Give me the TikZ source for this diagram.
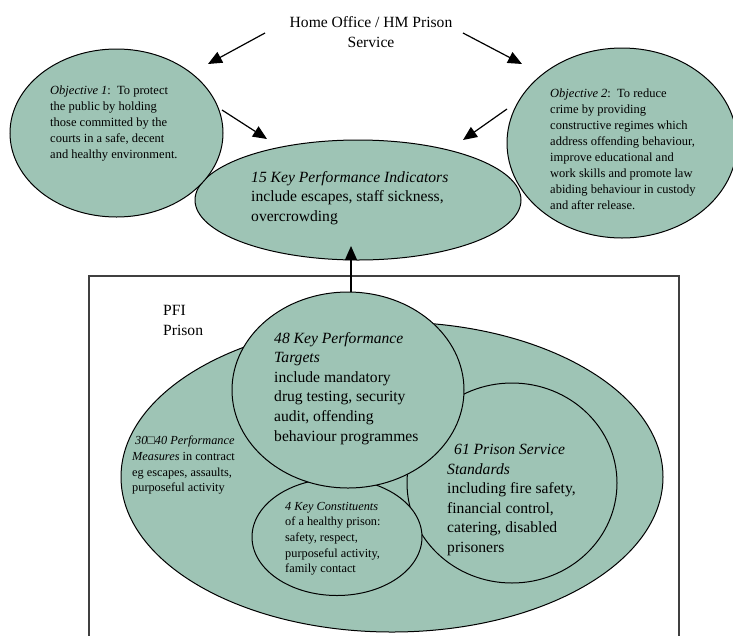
\documentclass[tikz,border=0pt]{standalone}
\usepackage{fontspec}
\setmainfont{Liberation Serif}
\usetikzlibrary{shapes.geometric,arrows.meta}
\definecolor{sage}{RGB}{158,196,181}
\tikzset{
  blob/.style={ellipse, draw=black, line width=1pt, fill=sage, inner sep=0pt},
  bigtxt/.style={font=\fontsize{15.6}{19.6}\selectfont, align=left, inner sep=0pt, anchor=north west},
  smalltxt/.style={font=\fontsize{12.5}{15.9}\selectfont, align=left, inner sep=0pt, anchor=north west},
  arr/.style={-{Triangle[length=14pt,width=12pt]}, line width=1.2pt},
}
\begin{document}
\begin{tikzpicture}[x=1pt, y=-1pt]
    \useasboundingbox (0,0) rectangle (733,635);
    % PFI prison box
    \draw[line width=1.2pt, color=black!75] (89,640) -- (89,276) -- (679,276) -- (679,640);
    % ellipses
    \node[blob, minimum width=542pt, minimum height=310pt] (outer) at (392,477) {};
    \node[blob, minimum width=210pt, minimum height=200pt] (pss) at (512,483) {};
    \node[blob, minimum width=170pt, minimum height=117pt] (kc) at (337,537) {};
    \node[blob, minimum width=232pt, minimum height=196pt] (kpt) at (348,390) {};
    \node[blob, minimum width=326pt, minimum height=120pt] (kpi) at (358,200) {};
    \node[blob, minimum width=213pt, minimum height=168pt] (obj1) at (116.5,133) {};
    \node[blob, minimum width=230pt, minimum height=190pt] (obj2) at (622,143) {};
    % arrows
    \coordinate (h1) at (265,33);  \coordinate (t1) at (208,64);
    \coordinate (h2) at (463,33);  \coordinate (t2) at (522,64);
    \coordinate (o1) at (222,110); \coordinate (t3) at (267,139);
    \coordinate (o2) at (507,109); \coordinate (t4) at (463,140);
    \coordinate (t5) at (351,246);
    \draw[arr] (h1) -- (t1);
    \draw[arr] (h2) -- (t2);
    \draw[arr] (o1) -- (t3);
    \draw[arr] (o2) -- (t4);
    \draw[arr] (t5 |- kpt.north) -- (t5);
    % texts
    \node[bigtxt, anchor=north, align=center] (home) at (371,16.5) {Home Office / HM Prison\\Service};
    \node[smalltxt] (obj1txt) at (50,86) {\textit{Objective 1}:\ \ To protect\\the public by holding\\those committed by the\\courts in a safe, decent\\and healthy environment.};
    \node[smalltxt] (obj2txt) at (550,89) {\textit{Objective 2}:\ \ To reduce\\crime by providing\\constructive regimes which\\address offending behaviour,\\improve educational and\\work skills and promote law\\abiding behaviour in custody\\and after release.};
    \node[bigtxt] (kpitxt) at (251,171) {\textit{15 Key Performance Indicators}\\include escapes, staff sickness,\\overcrowding};
    \node[bigtxt] (pfi) at (163,305) {PFI\\Prison};
    \node[bigtxt] (kpttxt) at (274,332) {\textit{48 Key Performance}\\\textit{Targets}\\include mandatory\\drug testing, security\\audit, offending\\behaviour programmes};
    \node[bigtxt] (psstxt) at (447,444) {\hspace{7pt}\textit{61 Prison Service}\\\textit{Standards}\\including fire safety,\\financial control,\\catering, disabled\\prisoners};
    \node[smalltxt, font=\fontsize{12.3}{15.6}\selectfont] (kctxt) at (285,502) {\textit{4 Key Constituents}\\of a healthy prison:\\safety, respect,\\purposeful activity,\\family contact};
    \node[smalltxt, font=\fontsize{12.3}{15.6}\selectfont] (outertxt) at (132,436) {\hspace{3pt}\textit{30{\upshape □}40 Performance}\\\textit{Measures} in contract\\eg escapes, assaults,\\purposeful activity};
\end{tikzpicture}
\end{document}
